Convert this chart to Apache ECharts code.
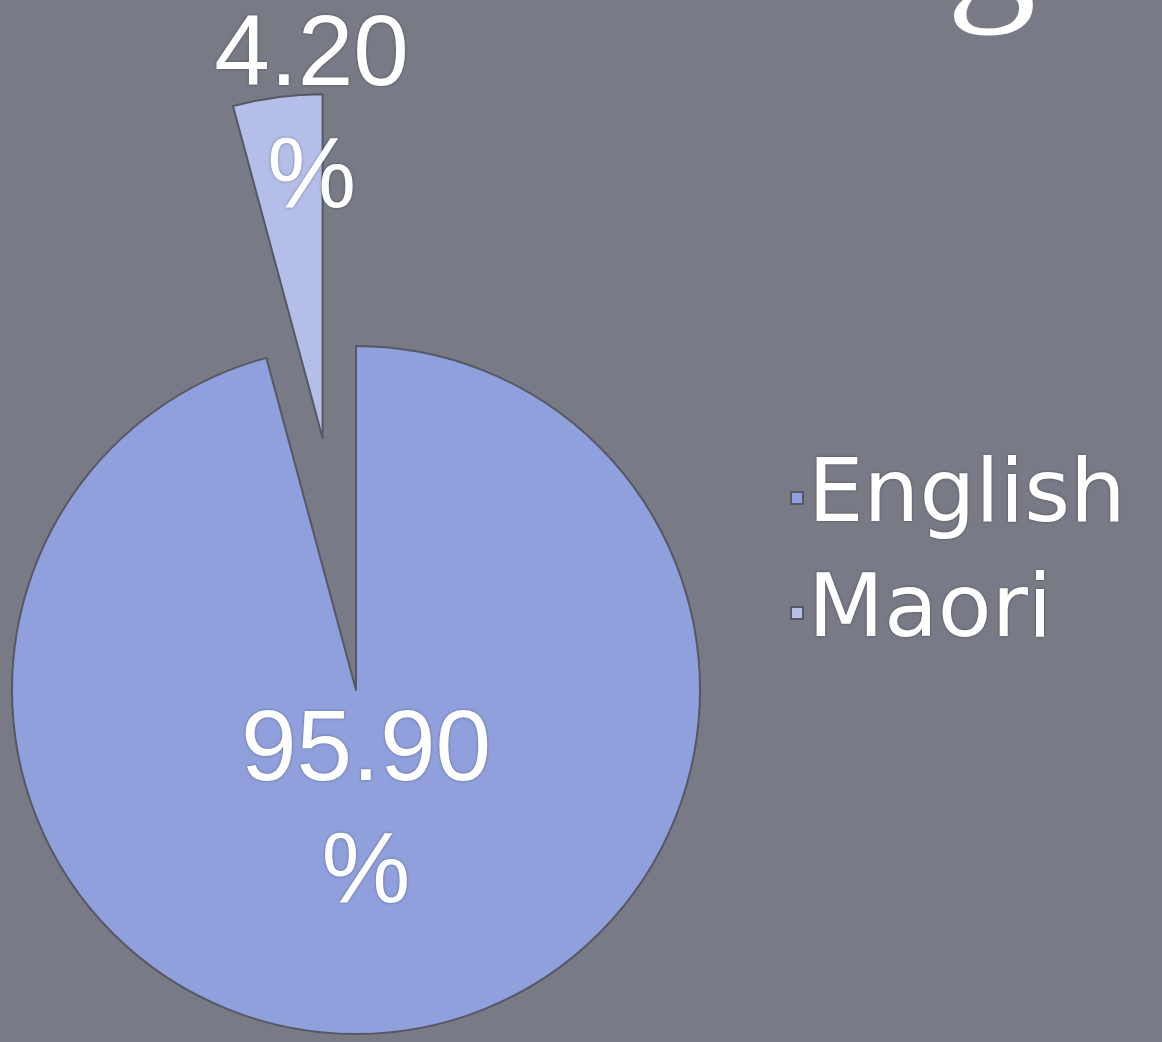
<!DOCTYPE html>
<html>
<head>
<meta charset="utf-8">
<script src="https://cdn.jsdelivr.net/npm/echarts@6/dist/echarts.min.js"></script>
<style>
  html, body { margin: 0; padding: 0; background: #787a86; }
  #myChart { width: 1162px; height: 1042px; }
</style>
</head>
<body>
<div id="myChart"></div>
<script>
var languages = ['English', 'Maori'];
var shares = [95.9, 4.2];
var sliceColors = ['#8fa0dc', '#b4bee8'];
var titleText = 'Official Languages';

var myChart = echarts.init(document.querySelector('#myChart'));

// label nudges so the text sits where the slide had it
var labelOffsets = [[-13, -50], [12, -146]];

var pieData = languages.map(function (name, i) {
    return {
        name: name,
        value: shares[i],
        selected: i === 1,
        itemStyle: { color: sliceColors[i] },
        label: { offset: labelOffsets[i] },
        select: { label: { offset: labelOffsets[i] } }
    };
});

var option = {
    backgroundColor: '#787a86',
    animation: false,
    graphic: [{
        type: 'text',
        left: 65,
        top: -140,
        style: {
            text: titleText,
            fill: '#ffffff',
            font: '180px "Liberation Serif"'
        }
    }],
    legend: {
        orient: 'vertical',
        left: 785,
        top: 442,
        icon: 'rect',
        itemWidth: 12,
        itemHeight: 12,
        itemGap: 13,
        selectedMode: false,
        data: languages,
        textStyle: {
            color: '#ffffff',
            fontFamily: 'DejaVu Sans',
            fontSize: 88,
            lineHeight: 102,
            textShadowColor: 'rgba(0,0,0,0.35)',
            textShadowBlur: 3
        }
    },
    series: [{
        type: 'pie',
        center: [356, 690],
        radius: [0, 344],
        startAngle: 90,
        selectedMode: 'single',
        selectedOffset: 254,
        avoidLabelOverlap: false,
        emphasis: { disabled: true },
        itemStyle: {
            borderColor: '#565864',
            borderWidth: 2
        },
        label: {
            show: true,
            position: 'inside',
            color: '#ffffff',
            fontFamily: 'Liberation Sans',
            fontSize: 100,
            lineHeight: 122,
            align: 'center',
            textShadowColor: 'rgba(0,0,0,0.35)',
            textShadowBlur: 3,
            formatter: function (p) {
                return p.value.toFixed(2) + '\n%';
            }
        },
        labelLine: { show: false },
        data: pieData
    }]
};

myChart.setOption(option);
</script>
</body>
</html>
